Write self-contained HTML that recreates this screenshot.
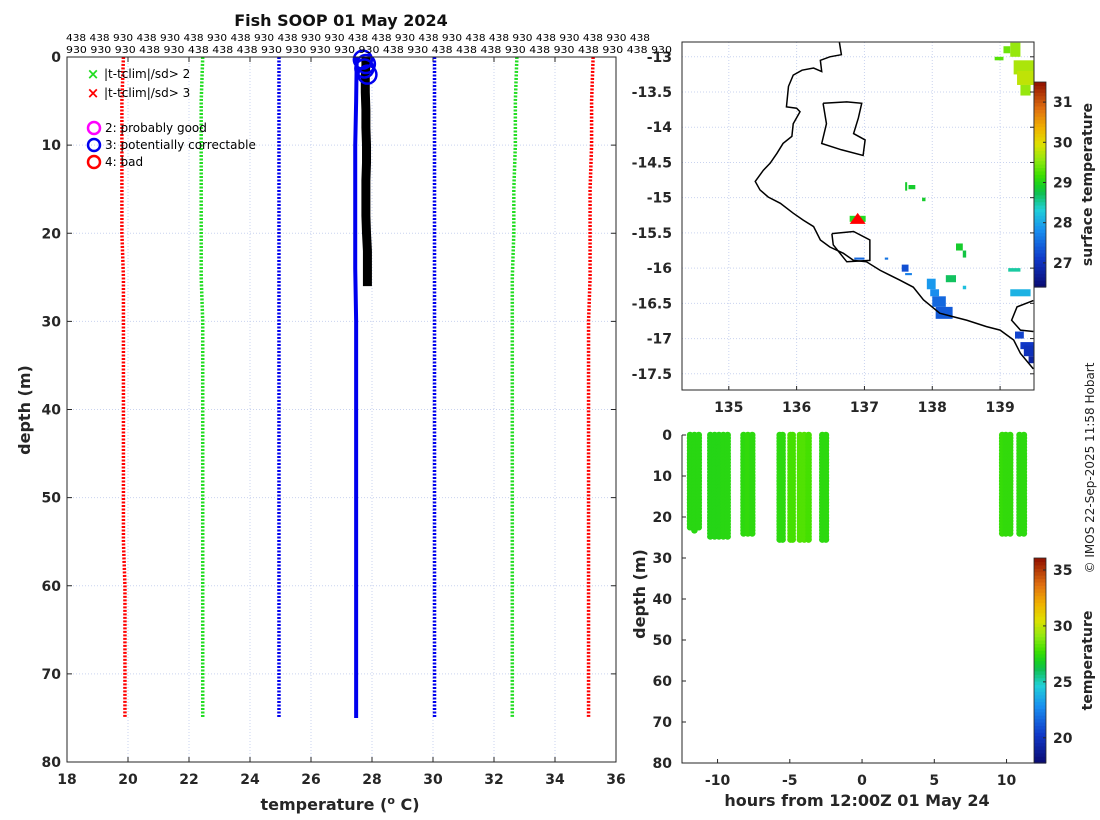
<!DOCTYPE html>
<html><head><meta charset="utf-8"><style>
body{margin:0;background:#fff;}
svg{display:block;font-family:"DejaVu Sans","Liberation Sans",sans-serif;}
.tk{font-size:14px;font-weight:bold;fill:#262626;}
.ax{fill:none;stroke:#262626;stroke-width:1;}
.grid{stroke:#c9d3ef;stroke-width:1;stroke-dasharray:1 2;}
</style></head><body>
<svg id="fig" width="1100" height="820" viewBox="0 0 1100 820">
<rect width="1100" height="820" fill="#fff"/>
<g id="left"></g>
<g id="map"></g>
<g id="sect"></g>
<text x="341" y="26" text-anchor="middle" font-size="16" font-weight="bold" fill="#111">Fish SOOP 01 May 2024</text>
<text x="66" y="41" font-size="10" fill="#000" textLength="584" lengthAdjust="spacingAndGlyphs">438 438 930 438 930 438 930 438 930 438 930 930 438 438 930 438 930 438 438 930 438 930 438 930 438</text>
<text x="66" y="53" font-size="10" fill="#000" textLength="606" lengthAdjust="spacingAndGlyphs">930 930 930 438 930 438 438 438 930 930 930 930 930 438 930 438 438 438 930 438 930 438 930 438 930</text>
<text transform="translate(1094,468) rotate(-90)" text-anchor="middle" font-size="12" fill="#222">© IMOS 22-Sep-2025 11:58 Hobart</text>
</svg>
<script>
const NS="http://www.w3.org/2000/svg";
function mk(parent,tag,attrs,text){const e=document.createElementNS(NS,tag);for(const k in attrs)e.setAttribute(k,attrs[k]);if(text!==undefined)e.textContent=text;parent.appendChild(e);return e;}

// ---------- Profile panel data ----------
const tempTicks=[18,20,22,24,26,28,30,32,34,36];
const depthTicks=[0,10,20,30,40,50,60,70,80];
const climDepth=[0,5,10,15,20,25,30,35,40,45,50,55,60,65,70,75];
const clim3Low=[19.85,19.8,19.8,19.8,19.8,19.85,19.85,19.85,19.85,19.85,19.85,19.85,19.9,19.9,19.9,19.9];
const clim2Low=[22.45,22.4,22.4,22.4,22.4,22.4,22.45,22.45,22.45,22.45,22.45,22.45,22.45,22.45,22.45,22.45];
const clim1Low=[24.95,24.95,24.95,24.95,24.95,24.95,24.95,24.95,24.95,24.95,24.95,24.95,24.95,24.95,24.95,24.95];
const clim1High=[30.05,30.05,30.05,30.05,30.05,30.05,30.05,30.05,30.05,30.05,30.05,30.05,30.05,30.05,30.05,30.05];
const clim2High=[32.75,32.7,32.7,32.65,32.65,32.6,32.6,32.6,32.6,32.6,32.6,32.6,32.6,32.6,32.6,32.6];
const clim3High=[35.25,35.2,35.2,35.15,35.15,35.15,35.1,35.1,35.1,35.1,35.1,35.1,35.1,35.1,35.1,35.1];
const profDepth=[0,1,2,4,6,8,10,12,14,16,18,20,22,24,26];
const profTemp=[27.8,27.8,27.78,27.78,27.8,27.8,27.82,27.82,27.8,27.8,27.8,27.82,27.85,27.85,27.85];
const blueDepth=[0,5,10,20,24,30,40,50,60,70,75];
const blueTemp=[27.5,27.48,27.45,27.45,27.45,27.48,27.48,27.48,27.48,27.48,27.48];
const flagDepth=[0.3,0.8,1.3,2];
const flagTemp=[27.7,27.8,27.75,27.85];

const L={x0:67,x1:616,y0:57,y1:762,tmin:18,tmax:36,dmax:80};
const lx=t=>L.x0+(t-L.tmin)/(L.tmax-L.tmin)*(L.x1-L.x0);
const ly=d=>L.y0+d/L.dmax*(L.y1-L.y0);
const left=document.getElementById('left');
tempTicks.forEach(t=>{
  const g=mk(left,'line',{x1:lx(t),x2:lx(t),y1:L.y0,y2:L.y1,class:'grid'});
  
  
  const tl=mk(left,'text',{x:lx(t),y:L.y1+22,'text-anchor':'middle',class:'tk'},t);
  
  
  mk(left,'line',{x1:lx(t),x2:lx(t),y1:L.y1,y2:L.y1-5,stroke:'#262626'});
  mk(left,'line',{x1:lx(t),x2:lx(t),y1:L.y0,y2:L.y0+5,stroke:'#262626'});
});
depthTicks.forEach(d=>{
  const g=mk(left,'line',{x1:L.x0,x2:L.x1,y1:ly(d),y2:ly(d),class:'grid'});
  
  
  const tl=mk(left,'text',{x:L.x0-6,y:ly(d)+5,'text-anchor':'end',class:'tk'},d);
  
  
  mk(left,'line',{x1:L.x0,x2:L.x0+5,y1:ly(d),y2:ly(d),stroke:'#262626'});
  mk(left,'line',{x1:L.x1,x2:L.x1-5,y1:ly(d),y2:ly(d),stroke:'#262626'});
});
function dline(par,vals,deps,color,name,w,dash){
  const p=mk(par,'polyline',{points:vals.map((v,i)=>lx(v)+','+ly(deps[i])).join(' '),fill:'none',stroke:color,'stroke-width':w});
  if(dash)p.setAttribute('stroke-dasharray',dash);
  
  
}
dline(left,clim3Low,climDepth,'#ff0000','clim-3sd-low',3.5,'2 1.5');
dline(left,clim2Low,climDepth,'#22dd22','clim-2sd-low',3.5,'2 1.5');
dline(left,clim1Low,climDepth,'#0000ee','clim-mean-low',3.5,'2 1.5');
dline(left,clim1High,climDepth,'#0000ee','clim-mean-high',3.5,'2 1.5');
dline(left,clim2High,climDepth,'#22dd22','clim-2sd-high',3.5,'2 1.5');
dline(left,clim3High,climDepth,'#ff0000','clim-3sd-high',3.5,'2 1.5');
dline(left,blueTemp,blueDepth,'#0000ee','blue-profile',4);
dline(left,profTemp,profDepth,'#000','temperature-profile',9);
flagTemp.forEach((t,i)=>{
  const c=mk(left,'circle',{cx:lx(t),cy:ly(flagDepth[i]),r:9,fill:'none',stroke:'#0000ee','stroke-width':2.5});
  
  
});
mk(left,'rect',{x:L.x0,y:L.y0,width:L.x1-L.x0,height:L.y1-L.y0,class:'ax'});
// legend
const leg=mk(left,'g',{});


[['#22dd22','|t-tclim|/sd> 2',74],['#ff0000','|t-tclim|/sd> 3',93]].forEach(a=>{
  mk(leg,'text',{x:93,y:a[2]+5,'text-anchor':'middle','font-size':15,'font-weight':'bold',fill:a[0]},'×');
  const l=mk(leg,'text',{x:104,y:a[2]+4,'font-size':12,fill:'#000'},a[1]);
  
  
});
[['#ff00ff','2: probably good',128],['#0000ee','3: potentially correctable',145],['#ff0000','4: bad',162]].forEach(a=>{
  mk(leg,'circle',{cx:94,cy:a[2],r:6,fill:'none',stroke:a[0],'stroke-width':2.5});
  const l=mk(leg,'text',{x:105,y:a[2]+4,'font-size':12,fill:'#000'},a[1]);
  
  
});
const yt=mk(left,'text',{transform:'translate(30,410) rotate(-90)','text-anchor':'middle','font-size':16,'font-weight':'bold',fill:'#262626'},'depth (m)');


const xt=mk(left,'text',{x:340,y:810,'text-anchor':'middle','font-size':16,'font-weight':'bold',fill:'#262626'});
xt.innerHTML='temperature (<tspan baseline-shift="super" font-size="11">o</tspan> C)';



// colormap
const cmStops=[[0,'#0a0a70'],[0.14,'#1038c8'],[0.28,'#1890f0'],[0.38,'#20d0d8'],[0.46,'#10c050'],[0.5,'#18d020'],[0.55,'#40e000'],[0.62,'#90e810'],[0.7,'#e0e000'],[0.78,'#f0b000'],[0.87,'#e07010'],[1,'#901000']];
function hex(c){return [1,3,5].map(i=>parseInt(c.substr(i,2),16));}
function cmap(f){f=Math.max(0,Math.min(1,f));for(let i=1;i<cmStops.length;i++){if(f<=cmStops[i][0]){const a=cmStops[i-1],b=cmStops[i];const u=(f-a[0])/(b[0]-a[0]);const A=hex(a[1]),B=hex(b[1]);return 'rgb('+A.map((v,k)=>Math.round(v+(B[k]-v)*u)).join(',')+')';}}return cmStops[cmStops.length-1][1];}
function colorbar(par,x,y0,y1,w,vmin,vmax,ticks,label,name){
  const g=mk(par,'g',{});
  
  
  const n=60;for(let i=0;i<n;i++){const f=i/n;mk(g,'rect',{x:x,y:y1-(i+1)*(y1-y0)/n,width:w,height:(y1-y0)/n+0.6,fill:cmap(f+0.5/n)});}
  mk(g,'rect',{x:x,y:y0,width:w,height:y1-y0,fill:'none',stroke:'#262626','stroke-width':0.8});
  ticks.forEach(t=>{const yy=y1-(t-vmin)/(vmax-vmin)*(y1-y0);mk(g,'line',{x1:x+w,x2:x+w-3,y1:yy,y2:yy,stroke:'#262626'});mk(g,'text',{x:x+w+7,y:yy+5,class:'tk','font-size':13},t);});
  mk(g,'text',{transform:'translate('+(x+w+46)+','+((y0+y1)/2)+') rotate(-90)','text-anchor':'middle','font-size':14,'font-weight':'bold',fill:'#262626'},label);
}

// ---------- Map panel ----------
const lonTicks=[135,136,137,138,139];
const latTicks=[-13,-13.5,-14,-14.5,-15,-15.5,-16,-16.5,-17,-17.5];
const coastLon=[136.63,136.66,136.49,136.35,136.37,136.25,136.08,135.95,135.88,135.85,136.0,136.05,135.95,135.93,135.8,135.71,135.61,135.51,135.39,135.46,135.58,135.76,135.95,136.1,136.25,136.35,136.49,136.69,136.84,137.03,137.23,137.52,137.72,137.87,138.11,138.31,138.51,138.8,139.0,139.2,139.3,139.49];
const coastLat=[-12.79,-12.97,-13.0,-13.05,-13.21,-13.16,-13.19,-13.26,-13.42,-13.71,-13.73,-13.78,-13.95,-14.13,-14.23,-14.37,-14.51,-14.61,-14.77,-14.89,-14.99,-15.08,-15.22,-15.32,-15.41,-15.6,-15.7,-15.79,-15.89,-15.91,-16.03,-16.17,-16.27,-16.45,-16.64,-16.69,-16.74,-16.83,-16.88,-17.02,-17.21,-17.43];
const isl1Lon=[136.39,136.74,136.96,136.91,136.84,137.01,136.98,136.66,136.37,136.44,136.39];
const isl1Lat=[-13.66,-13.64,-13.66,-13.87,-14.09,-14.18,-14.4,-14.32,-14.23,-13.95,-13.66];
const isl2Lon=[136.52,136.84,137.08,137.08,136.74,136.54,136.52];
const isl2Lat=[-15.51,-15.48,-15.6,-15.89,-15.91,-15.67,-15.51];
const isl3Lon=[139.49,139.25,139.17,139.3,139.49];
const isl3Lat=[-16.46,-16.55,-16.74,-16.88,-16.9];
// SST patches: [lonW, latN, lonE, latS, temperature]
const sstW=[138.92,139.05,139.15,139.2,139.25,139.3,137.6,137.65,137.85,138.35,138.45,137.92,137.97,138.0,138.05,138.2,138.45,139.12,139.15,139.22,139.3,139.35,139.42,137.3,137.55,137.6,136.85,136.98];
const sstN=[-13.0,-12.85,-12.8,-13.05,-13.2,-13.4,-14.78,-14.82,-15.0,-15.65,-15.75,-16.15,-16.3,-16.4,-16.55,-16.1,-16.25,-16.0,-16.3,-16.9,-17.05,-17.1,-17.25,-15.85,-15.95,-16.07,-15.85,-15.33];
const sstE=[139.05,139.15,139.3,139.5,139.5,139.45,137.63,137.75,137.9,138.45,138.5,138.05,138.1,138.2,138.3,138.35,138.5,139.3,139.45,139.35,139.5,139.5,139.5,137.35,137.65,137.7,137.0,137.0];
const sstS=[-13.05,-12.95,-13.0,-13.25,-13.4,-13.55,-14.9,-14.88,-15.05,-15.75,-15.85,-16.3,-16.4,-16.55,-16.72,-16.2,-16.3,-16.05,-16.4,-17.0,-17.15,-17.25,-17.35,-15.88,-16.05,-16.1,-15.88,-15.35];
const sstT=[29.3,29.4,29.6,29.7,29.8,29.6,28.9,28.9,28.9,28.9,28.8,27.9,27.8,27.5,27.4,28.7,28.2,28.5,28.1,27.2,27.1,27.0,26.8,27.6,27.3,27.7,27.5,27.4];
const shipLon=[136.9];
const shipLat=[-15.3];

const M={x0:682,x1:1034,y0:42,y1:390,lonmin:134.31,lonmax:139.5,latmax:-12.79,latmin:-17.73};
const mx=l=>M.x0+(l-M.lonmin)/(M.lonmax-M.lonmin)*(M.x1-M.x0);
const my=l=>M.y0+(M.latmax-l)/(M.latmax-M.latmin)*(M.y1-M.y0);
const map=document.getElementById('map');
mk(map,'defs',{}).innerHTML='<clipPath id="mclip"><rect x="682" y="42" width="352" height="348"/></clipPath>';
const mg=mk(map,'g',{'clip-path':'url(#mclip)'});
lonTicks.forEach(l=>{
  const g=mk(mg,'line',{x1:mx(l),x2:mx(l),y1:M.y0,y2:M.y1,class:'grid'});
  
  
  const t=mk(map,'text',{x:mx(l),y:M.y1+22,'text-anchor':'middle',class:'tk'},l);
  
  
  mk(map,'line',{x1:mx(l),x2:mx(l),y1:M.y1,y2:M.y1-4,stroke:'#262626'});
});
latTicks.forEach(l=>{
  const g=mk(mg,'line',{x1:M.x0,x2:M.x1,y1:my(l),y2:my(l),class:'grid'});
  
  
  const t=mk(map,'text',{x:M.x0-10,y:my(l)+5,'text-anchor':'end',class:'tk'},l);
  
  
  mk(map,'line',{x1:M.x1,x2:M.x1-4,y1:my(l),y2:my(l),stroke:'#262626'});
});
const sstMin=26.4,sstMax=31.5;
sstW.forEach((w,i)=>{
  const r=mk(mg,'rect',{x:mx(w),y:my(sstN[i]),width:mx(sstE[i])-mx(w),height:my(sstS[i])-my(sstN[i]),fill:cmap((sstT[i]-sstMin)/(sstMax-sstMin))});
  
  
});
function poly(par,lons,lats,name){
  const p=mk(par,'polyline',{points:lons.map((v,i)=>mx(v)+','+my(lats[i])).join(' '),fill:'none',stroke:'#000','stroke-width':1.5});
  
  
}
poly(mg,coastLon,coastLat,'coastline');
poly(mg,isl1Lon,isl1Lat,'island');
poly(mg,isl2Lon,isl2Lat,'island');
poly(mg,isl3Lon,isl3Lat,'island');
shipLon.forEach((l,i)=>{
  const x=mx(l),y=my(shipLat[i]);
  mk(mg,'rect',{x:x-8,y:y-3,width:16,height:6,fill:'#22dd22'});
  const t=mk(mg,'polygon',{points:(x-8)+','+(y+5)+' '+x+','+(y-6)+' '+(x+8)+','+(y+5),fill:'#ff0000'});
  
  
});
mk(map,'rect',{x:M.x0,y:M.y0,width:M.x1-M.x0,height:M.y1-M.y0,class:'ax'});
colorbar(map,1034,82,287,12,sstMin,sstMax,[27,28,29,30,31],'surface temperature','sst-colorbar');

// ---------- Section panel ----------
const hourTicks=[-10,-5,0,5,10];
const secDepthTicks=[0,10,20,30,40,50,60,70,80];
const castHour=[-11.9,-11.6,-11.3,-10.5,-10.2,-9.9,-9.6,-9.3,-8.2,-7.9,-7.6,-5.7,-5.5,-4.95,-4.8,-4.3,-4.0,-3.7,-2.75,-2.5,9.7,9.95,10.25,10.9,11.2];
const castMaxDepth=[23,23.5,23,25,25,25,25,25,24.5,24.5,24,25.5,25.5,26,26,25.5,25.5,25.5,25.5,25.5,24.5,24.5,24.5,24,24];
const castTemp=[27.3,27.3,27.3,27.2,27.2,27.2,27.3,27.3,27.4,27.5,27.4,27.4,27.4,28.0,27.9,28.1,28.1,27.9,27.4,27.4,27.6,27.5,27.5,27.4,27.4];
const S={x0:682,x1:1034,y0:435,y1:763,hmin:-12.46,hmax:11.9,dmax:80};
const sx=h=>S.x0+(h-S.hmin)/(S.hmax-S.hmin)*(S.x1-S.x0);
const sy=d=>S.y0+d/S.dmax*(S.y1-S.y0);
const sect=document.getElementById('sect');
const tMin=17.75,tMax=36.07;
castHour.forEach((h,i)=>{
  const g=mk(sect,'g',{fill:cmap((castTemp[i]-tMin)/(tMax-tMin))});
  
  
  for(let d=0;d<=castMaxDepth[i];d+=0.75){mk(g,'circle',{cx:sx(h),cy:sy(d),r:3.3});}
});
hourTicks.forEach(h=>{
  mk(sect,'line',{x1:sx(h),x2:sx(h),y1:S.y1,y2:S.y1-4,stroke:'#262626'});
  const t=mk(sect,'text',{x:sx(h),y:S.y1+22,'text-anchor':'middle',class:'tk'},h);
  
  
});
secDepthTicks.forEach(d=>{
  mk(sect,'line',{x1:S.x0,x2:S.x0+4,y1:sy(d),y2:sy(d),stroke:'#262626'});
  const t=mk(sect,'text',{x:S.x0-10,y:sy(d)+5,'text-anchor':'end',class:'tk'},d);
  
  
});
mk(sect,'polyline',{points:S.x0+','+S.y0+' '+S.x0+','+S.y1+' '+S.x1+','+S.y1,class:'ax'});
colorbar(sect,1034,558,763,12,tMin,tMax,[20,25,30,35],'temperature','temp-colorbar');
const st=mk(sect,'text',{transform:'translate(645,594) rotate(-90)','text-anchor':'middle','font-size':16,'font-weight':'bold',fill:'#262626'},'depth (m)');


const sxt=mk(sect,'text',{x:857,y:806,'text-anchor':'middle','font-size':16,'font-weight':'bold',fill:'#262626'},'hours from 12:00Z 01 May 24');


</script>
</body></html>
